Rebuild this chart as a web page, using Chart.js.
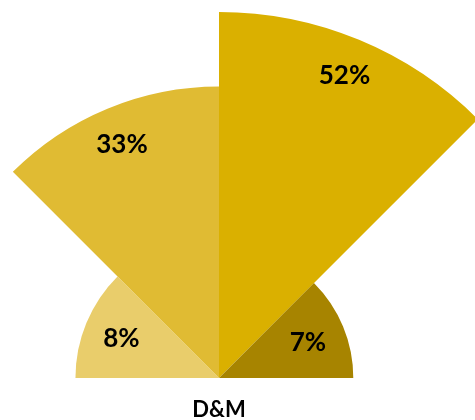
<!DOCTYPE html>
<html>
<head>
<meta charset="utf-8">
<script src="https://cdn.jsdelivr.net/npm/chart.js@4.4.1/dist/chart.umd.min.js"></script>
<style>
  html, body { margin: 0; padding: 0; background: #fff; overflow: hidden; }
  #wrap { position: relative; width: 475px; height: 420px; overflow: hidden; }
  /* the circle is bigger than the page: only its top half shows */
  #myChart { position: absolute; left: -147px; top: 12px; }
</style>
</head>
<body>
<div id="wrap"><canvas id="myChart" width="732" height="732"></canvas></div>
<script>
// shares for the D&M group, left to right around the half circle
var category = 'D&M';
var shares = [8, 33, 52, 7];
var shareLabels = ['8%', '33%', '52%', '7%'];
var colors = ['#E9CD6B', '#E0BB33', '#DAB000', '#A78400'];

// area of each wedge follows the share, so the radius is the square root
var radii = shares.map(function (v) { return Math.sqrt(v); });

var labelPlugin = {
    id: 'wedgeLabels',
    afterDatasetsDraw: function (chart) {
        var ctx = chart.ctx;
        var meta = chart.getDatasetMeta(0);
        var size = 26;
        ctx.save();
        ctx.fillStyle = '#000';
        ctx.textAlign = 'center';
        ctx.textBaseline = 'alphabetic';
        ctx.font = 'bold ' + size + 'px Lato, "Open Sans", sans-serif';
        meta.data.forEach(function (arc, i) {
            var p = arc.getProps(['x', 'y', 'startAngle', 'endAngle', 'outerRadius'], true);
            var mid = (p.startAngle + p.endAngle) / 2;
            var d = p.outerRadius - 38;
            var x = p.x + Math.cos(mid) * d;
            var y = p.y + Math.sin(mid) * d;
            ctx.fillText(shareLabels[i], x, y + size * 0.36);
        });
        // category name under the centre
        var c = meta.data[0];
        ctx.font = 'bold 22px Lato, "Open Sans", sans-serif';
        ctx.fillText(category, c.x, c.y + 39);
        ctx.restore();
    }
};

var ctx = document.getElementById('myChart');
var myChart = new Chart(ctx, {
    type: 'polarArea',
    data: {
        labels: shareLabels,
        datasets: [{
            data: radii,
            backgroundColor: colors,
            borderWidth: 0,
            angle: 45
        }]
    },
    plugins: [labelPlugin],
    options: {
        responsive: false,
        animation: false,
        layout: { padding: 0 },
        plugins: {
            legend: { display: false },
            tooltip: { enabled: false }
        },
        scales: {
            r: {
                min: 0,
                max: Math.sqrt(52),
                startAngle: -90,
                grid: { display: false },
                angleLines: { display: false },
                ticks: { display: false },
                pointLabels: { display: false }
            }
        }
    }
});
</script>
</body>
</html>
